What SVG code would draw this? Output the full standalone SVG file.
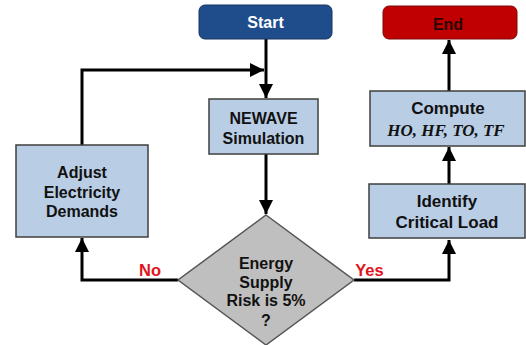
<svg xmlns="http://www.w3.org/2000/svg" width="526" height="345" viewBox="0 0 526 345">
<defs>
<style>
.box{fill:#b9cde5;stroke:#3f3f3f;stroke-width:1.5}
.t{font-family:"Liberation Sans",Arial,sans-serif;font-weight:bold;font-size:16px;fill:#111;text-anchor:middle}
.t17{font-size:17px}
.m{font-family:"Liberation Serif","Times New Roman",serif;font-weight:bold;font-style:italic;font-size:17px;fill:#111;text-anchor:middle}
.lbl{font-family:"Liberation Sans",Arial,sans-serif;font-weight:bold;font-size:16.5px;fill:#e0141e;text-anchor:middle}
.c{fill:none;stroke:#000;stroke-width:3}
</style>
<marker id="ah" viewBox="0 0 10 10" refX="10" refY="5" markerWidth="4.8" markerHeight="4.8" orient="auto" markerUnits="strokeWidth">
<path d="M0,0 L10,5 L0,10 z" fill="#000"/>
</marker>
</defs>
<rect width="526" height="345" fill="#fff"/>
<g id="connectors">
<path class="c" d="M266,39 V98" marker-end="url(#ah)"/>
<path class="c" d="M82,145 V70 H264" marker-end="url(#ah)"/>
<path class="c" d="M266,154 V214" marker-end="url(#ah)"/>
<path class="c" d="M178,280 H82 V238" marker-end="url(#ah)"/>
<path class="c" d="M354,280 H449 V240" marker-end="url(#ah)"/>
<path class="c" d="M449,184 V147" marker-end="url(#ah)"/>
<path class="c" d="M449,91 V40" marker-end="url(#ah)"/>
<text class="lbl" x="150" y="276">No</text>
<text class="lbl" x="369.5" y="276">Yes</text>
</g>
<g id="start">
<rect x="199" y="5" width="133" height="34" rx="6" fill="#1f4d8c" stroke="#16345e" stroke-width="1"/>
<text class="t" x="265.5" y="28" style="fill:#fff">Start</text>
</g>
<g id="end">
<rect x="383" y="6" width="134" height="33" rx="6" fill="#c00000" stroke="#7a0a0a" stroke-width="1"/>
<text class="t" x="448" y="29.5" style="fill:#2a0505">End</text>
</g>
<g id="newave">
<rect class="box" x="209" y="99" width="109" height="55"/>
<text class="t" x="263.5" y="123.5">NEWAVE</text>
<text class="t" x="263.5" y="144">Simulation</text>
</g>
<g id="adjust">
<rect class="box" x="16" y="145" width="132" height="92"/>
<text class="t" x="82" y="178">Adjust</text>
<text class="t" x="82" y="197.5">Electricity</text>
<text class="t" x="82" y="216.5">Demands</text>
</g>
<g id="decision">
<polygon points="266,215 354,280 266,345 178,280" fill="#bfbfbf" stroke="#555" stroke-width="1.5"/>
<text class="t" x="266" y="269">Energy</text>
<text class="t" x="266" y="288">Supply</text>
<text class="t" x="266" y="306">Risk is 5%</text>
<text class="t" x="266" y="325.5">?</text>
</g>
<g id="compute">
<rect class="box" x="370" y="91" width="155" height="55"/>
<text class="t t17" x="448" y="114">Compute</text>
<text class="m" x="446" y="136">HO, HF, TO, TF</text>
</g>
<g id="identify">
<rect class="box" x="369" y="184" width="156" height="54"/>
<text class="t t17" x="447" y="207">Identify</text>
<text class="t t17" x="447" y="227.5">Critical Load</text>
</g>
</svg>
